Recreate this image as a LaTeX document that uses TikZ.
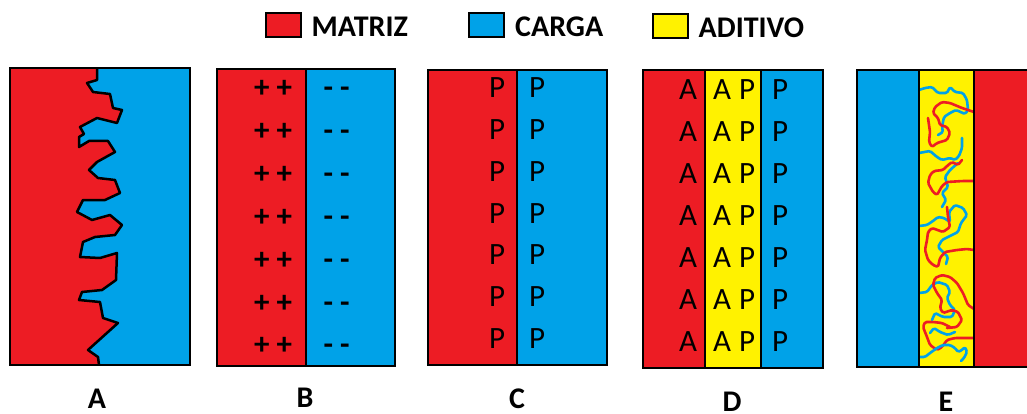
\documentclass[tikz,border=0pt]{standalone}
\usepackage{fontspec}
\setmainfont{Carlito}
\usetikzlibrary{positioning}
\definecolor{matriz}{RGB}{237,28,36}
\definecolor{carga}{RGB}{0,162,232}
\definecolor{aditivo}{RGB}{255,242,0}

% jagged matrix/filler interface of panel A
\newcommand{\interfaceA}{(97,68) -- (97,80) -- (87,83) -- (93,92) -- (110,94) -- (113,108) -- (122,110) -- (117,123) -- (97,118) -- (80,127) -- (84,134) -- (79,137) -- (79,147) -- (89,141) -- (108,141) -- (115,152) -- (97,162) -- (89,170) -- (98,178) -- (115,180) -- (120,193) -- (105,200) -- (83,200) -- (77,212) -- (92,220) -- (110,215) -- (122,225) -- (115,235) -- (95,237) -- (83,242) -- (80,257) -- (100,258) -- (117,253) -- (116,280) -- (102,290) -- (82,292) -- (79,300) -- (100,302) -- (103,318) -- (118,323) -- (108,332) -- (88,350) -- (98,357) -- (99,365)}

\begin{document}
\begin{tikzpicture}[x=1pt, y=-1pt]
  \tikzstyle{swatch} = [rectangle, draw=black, line width=2pt, minimum width=35pt, minimum height=24pt, inner sep=0pt]
  \tikzstyle{legtext} = [inner sep=0pt, font=\fontsize{30}{30}\selectfont\bfseries]
  \tikzstyle{tag} = [inner sep=0pt, font=\fontsize{30}{30}\selectfont\bfseries]
  \tikzstyle{chg} = [inner sep=0pt, font=\fontsize{31}{31}\selectfont]
  \tikzstyle{sign} = [inner sep=0pt, anchor=base, font=\fontsize{31}{31}\selectfont\bfseries]
  \tikzstyle{panel} = [draw=black, line width=2.5pt]
  \tikzstyle{wall} = [draw=black, line width=2pt]
  \tikzstyle{chainB} = [draw=carga, line width=2.6pt, line join=round, line cap=round, rounded corners=1.5pt]
  \tikzstyle{chainR} = [draw=matriz, line width=2.6pt, line join=round, line cap=round, rounded corners=1.5pt]

  \useasboundingbox (0,0) rectangle (1027,414);

  % Legend
  \node [swatch, fill=matriz] (swM) at (283,25) {};
  \node [legtext, right=10pt of swM, yshift=-2pt] (txtM) {MATRIZ};
  \node [swatch, fill=carga] (swC) at (486.5,25) {};
  \node [legtext, right=10pt of swC, yshift=-2pt] (txtC) {CARGA};
  \node [swatch, fill=aditivo] (swD) at (670,26) {};
  \node [legtext, right=10pt of swD, yshift=-2pt] (txtD) {ADITIVO};

  % A: mechanical interlocking
  \fill[carga] (10,68) rectangle (190,365);
  \fill[matriz] (10,68) -- \interfaceA -- (10,365) -- cycle;
  \draw[wall, line width=2.5pt, line join=round] \interfaceA;
  \draw[panel] (10,68) rectangle (190,365);

  % B: electrostatic attraction
  \fill[matriz] (217,69) rectangle (306,366);
  \fill[carga] (306,69) rectangle (395,366);
  \draw[wall, line width=2.5pt] (306,69) -- (306,366);
  \draw[panel] (217,69) rectangle (395,366);
  \foreach \i in {0,...,6} {
    \node [sign] (posB\i) at (273,98+42.8*\i) {+ +};
    \node [sign] (negB\i) at (336.5,98+42.8*\i) {- -};
  }

  % C: direct bonding
  \fill[matriz] (428,70) rectangle (517,365);
  \fill[carga] (517,70) rectangle (607,365);
  \draw[wall, line width=2.5pt] (517,70) -- (517,365);
  \draw[panel] (428,70) rectangle (607,365);
  \foreach \i in {0,...,6} {
    \node [chg] (pmC\i) at (497,88+41.7*\i) {P};
    \node [chg] (pcC\i) at (537,88+41.7*\i) {P};
  }

  % D: coupling agent layer
  \fill[matriz] (643,70) rectangle (705,368);
  \fill[aditivo] (705,70) rectangle (761,368);
  \fill[carga] (761,70) rectangle (823,368);
  \draw[wall] (705,70) -- (705,368);
  \draw[wall] (761,70) -- (761,368);
  \draw[panel] (643,70) rectangle (823,368);
  \foreach \i in {0,...,6} {
    \node [chg] (amD\i) at (688,90+42*\i) {A};
    \node [chg] (aaD\i) at (722,90+42*\i) {A};
    \node [chg] (paD\i) at (747,90+42*\i) {P};
    \node [chg] (pcD\i) at (780,90+42*\i) {P};
  }

  % E: entangled chains in the additive layer
  \fill[carga] (857,70) rectangle (919,367);
  \fill[aditivo] (919,70) rectangle (974,367);
  \fill[matriz] (974,70) rectangle (1035,367);

  \draw[chainB] (919,90) -- (925,88) -- (932,87) -- (938,93) -- (947,93) -- (950,87) -- (955,92) -- (963,93) -- (967,100) -- (968,110) -- (965,114) -- (956,110) -- (950,113) -- (944,117) -- (942,127) -- (943,132) -- (938,135);
  \draw[chainR] (974,112) -- (962,108) -- (950,103) -- (942,102) -- (935,107) -- (933,113) -- (938,118) -- (940,125) -- (947,127) -- (950,133) -- (947,140) -- (937,143) -- (932,147) -- (929,142) -- (930,132) -- (928,118);
  \draw[chainB] (919,153) -- (930,151) -- (937,157) -- (942,160) -- (950,158) -- (955,160) -- (959,156) -- (962,148) -- (962,138);
  \draw[chainB] (958,163) -- (950,170) -- (945,177) -- (948,187) -- (942,193) -- (946,200) -- (942,207);
  \draw[chainR] (974,181) -- (963,181) -- (947,182) -- (942,186) -- (937,195) -- (933,192) -- (928,183) -- (930,175) -- (934,171) -- (943,170) -- (947,166) -- (952,162) -- (958,165) -- (962,160);
  \draw[chainB] (919,226) -- (927,225) -- (933,221) -- (938,217) -- (944,218) -- (950,222) -- (949,212) -- (955,205) -- (963,208) -- (967,215) -- (961,223) -- (958,232) -- (950,236) -- (942,240) -- (938,247) -- (943,252) -- (948,257) -- (946,264);
  \draw[chainR] (974,250) -- (967,249) -- (957,250) -- (945,252) -- (940,258) -- (938,267) -- (933,265) -- (928,260) -- (925,250) -- (927,240) -- (928,232) -- (932,228) -- (943,232) -- (950,227) -- (948,217) -- (947,207);
  \draw[chainB] (919,293) -- (927,292) -- (932,285) -- (938,282) -- (947,285) -- (950,292) -- (947,298) -- (950,305) -- (955,310) -- (952,317) -- (943,317) -- (935,313) -- (932,320);
  \draw[chainR] (974,309) -- (968,305) -- (963,293) -- (957,283) -- (950,277) -- (942,275) -- (935,278) -- (933,285) -- (937,293) -- (942,300) -- (940,308) -- (943,313) -- (952,310) -- (958,312) -- (962,320) -- (957,327) -- (947,328);
  \draw[chainB] (930,333) -- (934,328) -- (940,332) -- (948,335) -- (955,332);
  \draw[chainR] (974,338) -- (965,338) -- (955,338) -- (947,340) -- (942,347) -- (937,350) -- (930,345) -- (927,337) -- (923,327) -- (925,322) -- (933,322) -- (942,323) -- (950,327);
  \draw[chainB] (919,357) -- (925,357) -- (930,353) -- (937,348) -- (943,345) -- (950,345) -- (955,348) -- (958,352) -- (962,350) -- (965,347) -- (967,352) -- (964,358) -- (961,361);

  \draw[wall] (919,70) -- (919,367);
  \draw[wall] (974,70) -- (974,367);
  \draw[panel] (1035,70) -- (857,70) -- (857,367) -- (1035,367);

  % Panel labels
  \node [tag] (labA) at (97,399) {A};
  \node [tag] (labB) at (305,398) {B};
  \node [tag] (labC) at (517,399) {C};
  \node [tag] (labD) at (732,402) {D};
  \node [tag] (labE) at (946,402) {E};
\end{tikzpicture}
\end{document}
